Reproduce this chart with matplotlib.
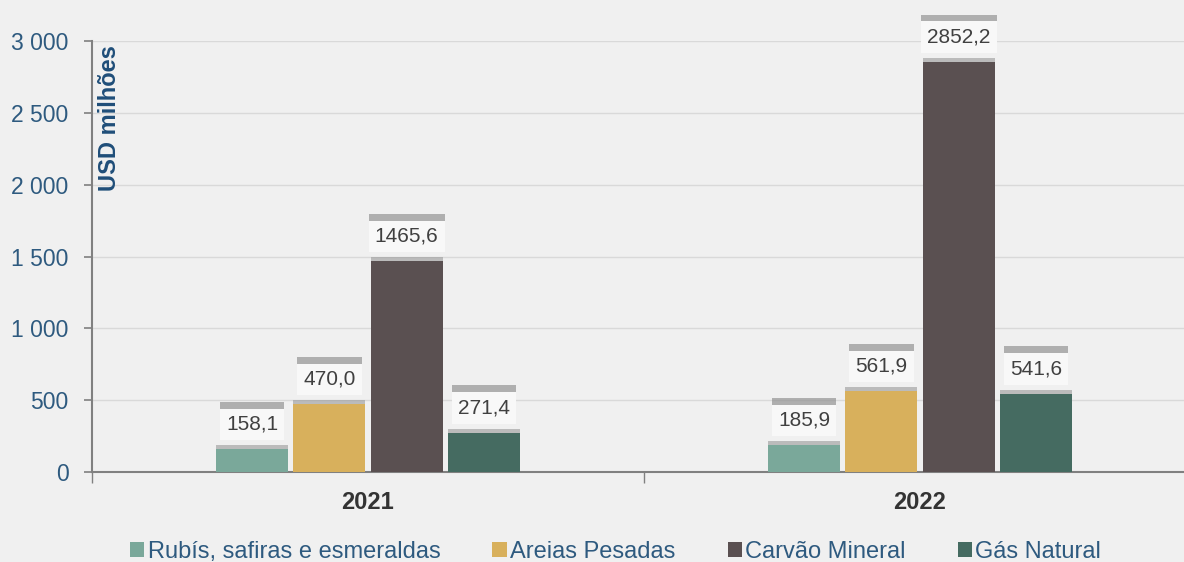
import matplotlib
matplotlib.use("Agg")
import matplotlib.pyplot as plt
import matplotlib.patheffects as pe
from matplotlib.patches import Patch
import numpy as np

years = ["2021", "2022"]
series_names = ["Rubís, safiras e esmeraldas", "Areias Pesadas", "Carvão Mineral", "Gás Natural"]
rubis = [158.1, 185.9]
areias = [470.0, 561.9]
carvao = [1465.6, 2852.2]
gas = [271.4, 541.6]
colors = ["#7aa89a", "#d8b05c", "#5a5051", "#456b61"]
yticks = [0, 500, 1000, 1500, 2000, 2500, 3000]
ytick_labels = ["0", "500", "1 000", "1 500", "2 000", "2 500", "3 000"]

plt.rcParams['font.family'] = ['Liberation Sans', 'DejaVu Sans']
BG = "#f0f0f0"
fig = plt.figure(figsize=(11.84, 5.62), dpi=100, facecolor=BG)
ax = fig.add_axes([92/1184, 90/562, 1104/1184, 431/562], facecolor=BG)

data = [rubis, areias, carvao, gas]
x = np.arange(len(years))
width = 0.13
step = 0.14
offsets = (np.arange(4) - 1.5) * step

bar_shadow = [pe.SimplePatchShadow(offset=(0, 3), shadow_rgbFace="#999999", alpha=0.6), pe.Normal()]
box_shadow = [pe.SimplePatchShadow(offset=(0, 5), shadow_rgbFace="#8c8c8c", alpha=0.65), pe.Normal()]
for i, (vals, name, c) in enumerate(zip(data, series_names, colors)):
    bars = ax.bar(x + offsets[i], vals, width, color=c, zorder=3)
    for b in bars:
        b.set_path_effects(bar_shadow)
    for xi, v in zip(x + offsets[i], vals):
        s = f"{v:.1f}".replace(".", ",")
        t = ax.annotate(s, (xi, v), xytext=(0, 18), textcoords="offset points",
                        ha="center", va="center", fontsize=15, color="#404040", zorder=5,
                        bbox=dict(boxstyle="square,pad=0.3", facecolor="#f8f8f8",
                                  edgecolor="none"))
        t.get_bbox_patch().set_path_effects(box_shadow)

ax.set_ylim(0, 3000)
ax.set_xlim(-0.5, 1.5)
ax.set_yticks(yticks)
ax.set_yticklabels(ytick_labels, fontsize=16.5, color="#2e5a7f")
ax.yaxis.grid(True, color="#d9d9d9", linewidth=1, zorder=0)
ax.set_axisbelow(True)

ax.set_xticks(x)
ax.set_xticklabels(years, fontsize=17, fontweight="bold", color="#333333")
ax.tick_params(axis="x", length=0, pad=14)
ax.set_xticks([-0.5, 0.5, 1.5], minor=True)
ax.tick_params(axis="x", which="minor", length=8, color="#808080", width=1)
ax.tick_params(axis="y", length=6, color="#808080", width=1.2, pad=11)

for sp in ["top", "right"]:
    ax.spines[sp].set_visible(False)
for sp in ["left", "bottom"]:
    ax.spines[sp].set_color("#808080")
    ax.spines[sp].set_linewidth(1.5)

ax.text(0.016, 0.99, "USD milhões", transform=ax.transAxes, rotation=90,
        ha="center", va="top", fontsize=17, fontweight="bold", color="#1f4e79")

handles = [Patch(facecolor=c, edgecolor="none") for c in colors]
leg = fig.legend(handles, series_names, loc="lower center", bbox_to_anchor=(0.52, -0.04), ncol=4,
                 frameon=False, fontsize=17, handlelength=0.6, handleheight=0.6,
                 handletextpad=0.15, columnspacing=2.2, labelcolor="#2e5a7f")

fig.savefig("out.png", dpi=100, facecolor=BG)
